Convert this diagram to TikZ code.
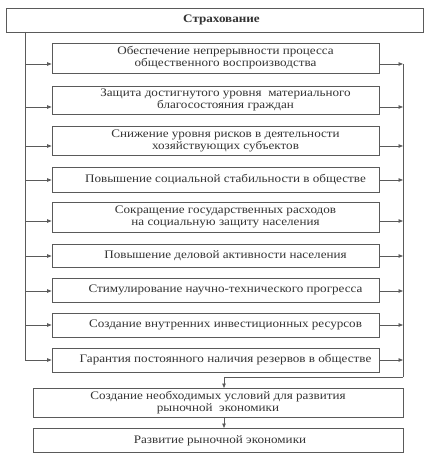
\documentclass[tikz,border=0pt]{standalone}
\usepackage{fontspec}
\setmainfont[FakeStretch=1.14]{Liberation Serif}
\usetikzlibrary{arrows.meta,calc}
\definecolor{ln}{HTML}{5A5A5A}
\definecolor{tx}{HTML}{333333}
\newcommand\bxt[1]{\hspace*{20pt}\begin{tabular}{@{}c@{}}#1\end{tabular}}
\begin{document}
\begin{tikzpicture}[x=1pt,y=-1pt,
  every node/.style={font=\fontsize{11.5}{13.3}\selectfont, text=tx},
  box/.style={draw=ln, line width=0.8pt, inner sep=0pt, minimum width=327pt, anchor=north},
  wbox/.style={draw=ln, line width=0.8pt, inner sep=0pt, minimum width=370pt, anchor=north},
  conn/.style={draw=ln, line width=0.8pt},
  arr/.style={conn, -{Triangle[length=4.5pt,width=3.5pt]}}]
\useasboundingbox (0,0) rectangle (424,462);
\renewcommand\arraystretch{0.92}
\node[draw=ln, line width=0.8pt, minimum width=417pt, minimum height=24pt, inner sep=0pt, anchor=north] (top) at (214.5,8) {\hspace*{14pt}\textbf{Страхование}};
\node[box, minimum height=30pt] (b1) at (215.5,43) {\bxt{Обеспечение непрерывности процесса\\общественного воспроизводства}};
\node[box, minimum height=28pt] (b2) at (215.5,86) {\bxt{Защита достигнутого уровня\ \ материального\\благосостояния граждан}};
\node[box, minimum height=29pt] (b3) at (215.5,126) {\bxt{Снижение уровня рисков в деятельности\\хозяйствующих субъектов}};
\node[box, minimum height=25pt] (b4) at (215.5,167) {\bxt{Повышение социальной стабильности в обществе}};
\node[box, minimum height=30pt] (b5) at (215.5,202) {\bxt{Сокращение государственных расходов\\на социальную защиту населения}};
\node[box, minimum height=23pt] (b6) at (215.5,244) {\bxt{Повышение деловой активности населения}};
\node[box, minimum height=24pt] (b7) at (215.5,278) {\bxt{Стимулирование научно-технического прогресса}};
\node[box, minimum height=24pt] (b8) at (215.5,313) {\bxt{Создание внутренних инвестиционных ресурсов}};
\node[box, minimum height=24pt] (b9) at (215.5,348) {\bxt{Гарантия постоянного наличия резервов в обществе}};
\node[wbox, minimum height=29pt] (c1) at (218,388) {\begin{tabular}{@{}c@{}}Создание необходимых условий для развития\\рыночной\ \ экономики\end{tabular}};
\node[wbox, minimum height=24pt] (c2) at (218,428) {\hspace*{4pt}Развитие рыночной экономики};
% spine coordinates
\coordinate (ltop) at (25,32);
\coordinate (rtop) at (403,64);
\coordinate (rbot) at (403,377);
\coordinate (lbot) at (25,360);
\foreach \i/\y in {1/64,2/107,3/146,4/180,5/221,6/256,7/291,8/325,9/360}{
  \coordinate (a\i) at (25,\y);
  \draw[arr] (a\i) -- (a\i -| b\i.west);
  \draw[arr] (a\i -| b\i.east) -- (a\i -| rtop);
}
\draw[conn] (ltop) -- (lbot);
\draw[conn] (rtop) -- (rbot);
\coordinate (turn) at (224,377);
\draw[conn] (rbot) -- (turn);
\draw[arr] (turn) -- (turn |- c1.north);
\draw[arr] (turn |- c1.south) -- (turn |- c2.north);
\end{tikzpicture}
\end{document}
